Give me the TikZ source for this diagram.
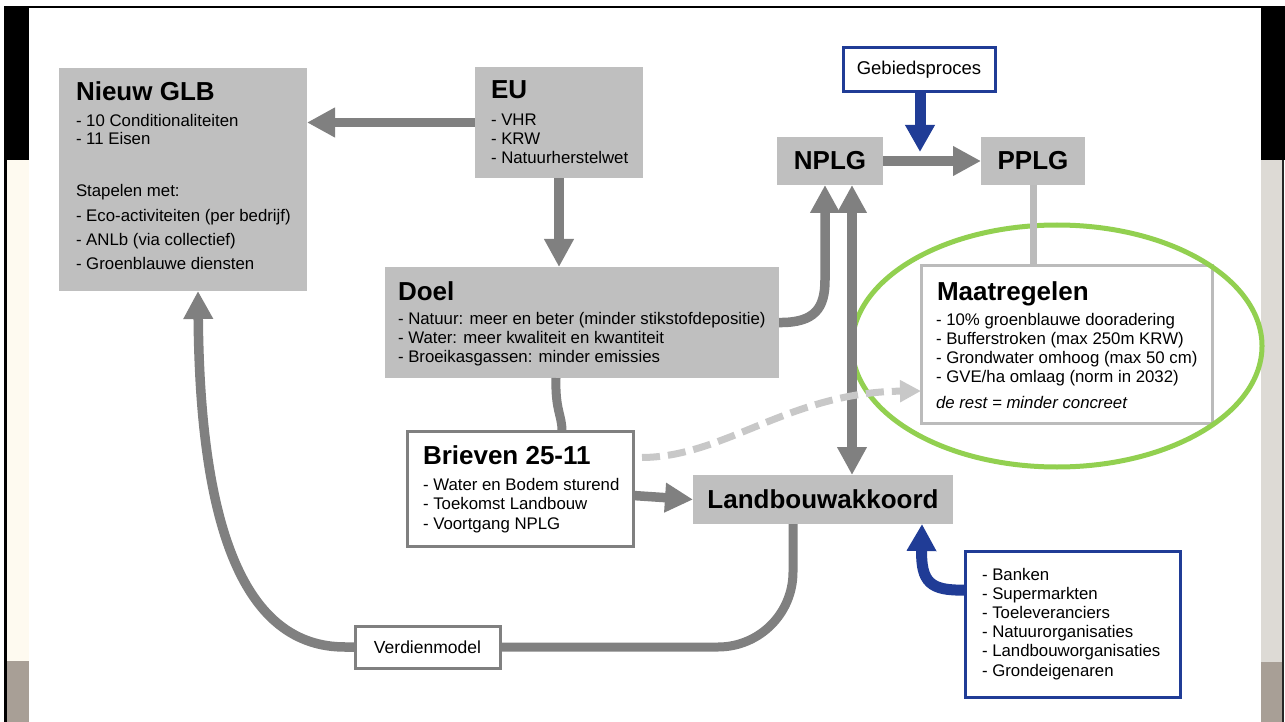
\documentclass[tikz,border=0pt]{standalone}
\usepackage{fontspec}
\setmainfont{Liberation Sans}
\usetikzlibrary{arrows.meta}
\definecolor{boxgray}{RGB}{191,191,191}
\definecolor{arrgray}{RGB}{128,128,128}
\definecolor{lightgr}{RGB}{187,187,187}
\definecolor{dashgr}{RGB}{200,200,200}
\definecolor{navy}{RGB}{32,60,150}
\definecolor{ellgreen}{RGB}{146,208,80}
\definecolor{cream}{RGB}{254,250,240}
\definecolor{taupe}{RGB}{168,159,150}
\definecolor{sidegray}{RGB}{221,218,213}
\newcommand\itemfont{\fontsize{16.8}{19}\selectfont}
\newcommand\titlefont{\bfseries\fontsize{26}{30}\selectfont}
\newcommand\txtlines[5]{\foreach \entry [count=\i] in {#5}{\node[itemtxt] (#1\i) at (#2,{#3+(\i-1)*#4}) {\entry};}}
\begin{document}
\begin{tikzpicture}[x=1pt,y=-1pt,
  every node/.style={inner sep=0pt, outer sep=0pt},
  gbox/.style={fill=boxgray, anchor=north west},
  wbox/.style={fill=white, draw=arrgray, line width=3pt, anchor=north west},
  lbox/.style={fill=white, draw=lightgr, line width=3pt, anchor=north west},
  bbox/.style={fill=white, draw=navy, line width=3pt, anchor=north west},
  itemtxt/.style={anchor=base west, font=\itemfont},
  titletxt/.style={anchor=base west, font=\titlefont},
  arr/.style={draw=arrgray, line width=9.5pt, -{Triangle[length=28pt,width=28pt]}},
  darr/.style={draw=arrgray, line width=9.5pt, {Triangle[length=28pt,width=28pt]}-{Triangle[length=28pt,width=28pt]}},
  bluearr/.style={draw=navy, line width=11pt, -{Triangle[length=27pt,width=28pt]}},
  dasharr/.style={draw=dashgr, line width=7pt, dash pattern=on 18pt off 8pt, -{Triangle[length=21pt,width=21pt]}},
  plain/.style={draw=arrgray, line width=9pt}
]
\useasboundingbox (0,0) rectangle (1285,722);
% slide background
\fill[white] (0,0) rectangle (1285,722);
\fill[black] (4,6) rectangle (1262,8);
\fill[black] (4,6) rectangle (29,160);
\fill[black] (4,160) rectangle (7,722);
\fill[cream] (7,160) rectangle (29,661);
\fill[taupe] (7,661) rectangle (29,722);
\fill[black] (1261,6) rectangle (1285,160);
\fill[sidegray] (1261,160) rectangle (1282,662);
\fill[taupe] (1261,662) rectangle (1282,722);
\fill[black!85] (1282,160) rectangle (1283.5,722);

% boxes
\node[gbox, minimum width=248pt, minimum height=223pt] (glb) at (59,68) {};
\node[gbox, minimum width=168pt, minimum height=111pt] (eu) at (475,67) {};
\node[gbox, minimum width=394pt, minimum height=111pt] (doel) at (385,267) {};
\node[wbox, minimum width=226pt, minimum height=115pt] (brieven) at (407,431) {};
\node[gbox, minimum width=106pt, minimum height=48pt, font=\titlefont] (nplg) at (777,137) {NPLG};
\node[gbox, minimum width=104pt, minimum height=48pt, font=\titlefont] (pplg) at (981,137) {PPLG};
\node[bbox, minimum width=152pt, minimum height=44pt, font=\fontsize{18.5}{21}\selectfont] (geb) at (843,48) {Gebiedsproces};
\node[lbox, minimum width=291pt, minimum height=158pt] (maat) at (921,265) {};
\node[gbox, minimum width=260pt, minimum height=49pt, font=\titlefont] (lba) at (693,475) {Landbouwakkoord};
\node[bbox, minimum width=215pt, minimum height=146pt] (stake) at (965,551) {};
\node[wbox, minimum width=145pt, minimum height=42pt, font=\fontsize{17.5}{20}\selectfont] (verd) at (355,626) {Verdienmodel};

% texts
\node[titletxt] (glbt) at (76,101) {Nieuw GLB};
\txtlines{glba}{76}{127}{17.3}{- 10 Conditionaliteiten, - 11 Eisen}
\txtlines{glbb}{76}{197}{24.3}{Stapelen met:, - Eco-activiteiten (per bedrijf), - ANLb (via collectief), - Groenblauwe diensten}
\node[titletxt] (eut) at (491,99) {EU};
\txtlines{eui}{491}{126}{19}{- VHR, - KRW, - Natuurherstelwet}
\node[titletxt] (doelt) at (398,300) {Doel};
\txtlines{doeli}{398}{324}{19}{- Natuur: meer en beter (minder stikstofdepositie), - Water: meer kwaliteit en kwantiteit, - Broeikasgassen: minder emissies}
\node[titletxt] (brt) at (423,464) {Brieven 25-11};
\txtlines{bri}{423}{490}{19.5}{- Water en Bodem sturend, - Toekomst Landbouw, - Voortgang NPLG}
\node[titletxt] (maatt) at (937,300) {Maatregelen};
\txtlines{maati}{936}{325}{19.3}{- 10\% groenblauwe dooradering, - Bufferstroken (max 250m KRW), - Grondwater omhoog (max 50 cm), - GVE/ha omlaag (norm in 2032)}
\node[itemtxt, font=\itemfont\itshape] (maatr) at (936,408) {de rest = minder concreet};
\txtlines{sti}{982}{580}{19.2}{- Banken, - Supermarkten, - Toeleveranciers, - Natuurorganisaties, - Landbouworganisaties, - Grondeigenaren}

% highlight
\draw[ellgreen, line width=5pt] (1057,346) ellipse [x radius=205, y radius=121];

% connectors
\draw[arr] (eu.west) -- (eu.west -| glb.east);
\draw[arr] (eu.south) -- (eu.south |- doel.north);
\draw[arr] (doel.east) .. controls (815,323) and (825,308) .. (825,280) -- (nplg.south -| 825,0);
\draw[darr] (lba.north -| 852,0) -- (nplg.south -| 852,0);
\draw[arr] (nplg.east) -- (pplg.west);
\coordinate (gebtip) at (920,152);
\draw[bluearr] (geb.south -| 920,0) -- (gebtip);
\draw[lightgr, line width=7pt] (pplg.south) -- (pplg.south |- maat.north);
\draw[plain] (doel.south -| 556,0) .. controls (555,410) and (562,415) .. (brieven.north -| 562,0);
\draw[arr] ([yshift=-7pt]brieven.east) -- (lba.west);
\draw[dasharr] ([xshift=9pt,yshift=31pt]brieven.east) .. controls (725,457) and (790,392) .. ([yshift=-47pt]maat.west);
\draw[plain, rounded corners=75pt] (lba.south -| 793,0) |- (verd.east);
\draw[arr] (verd.west) -- (345,647) .. controls (245,647) and (200,530) .. (glb.south -| 198,0);
\draw[bluearr] ([yshift=34pt]stake.west) .. controls (930,591) and (921,582) .. (lba.south -| 922,0);
\end{tikzpicture}
\end{document}
